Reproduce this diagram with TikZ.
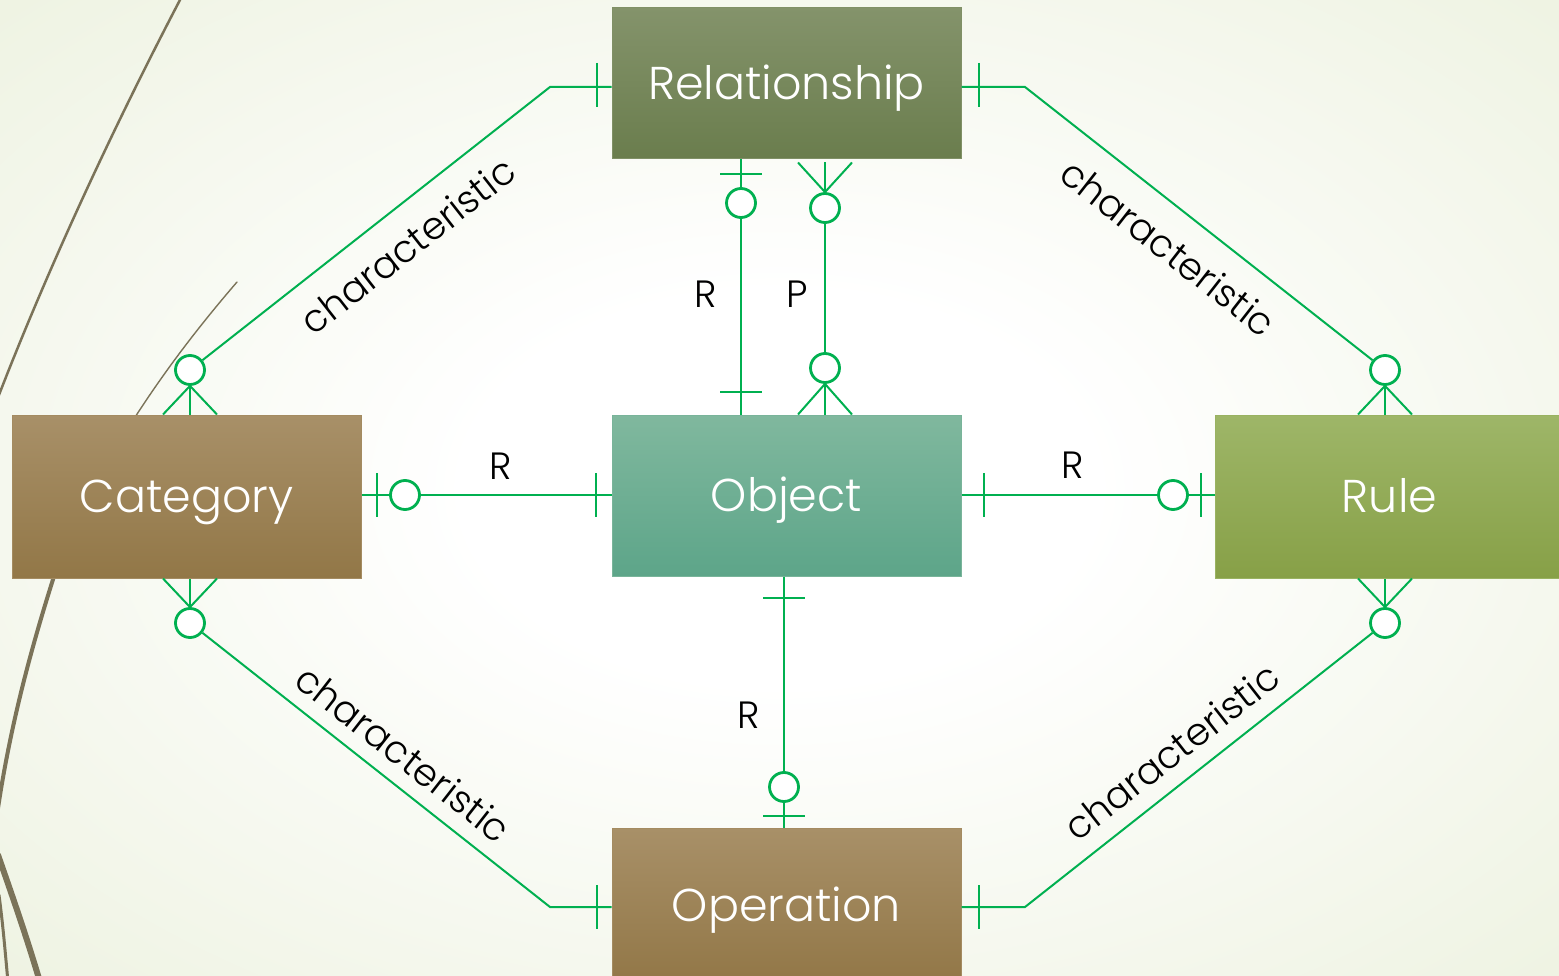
\documentclass[tikz,border=0pt]{standalone}
\usepackage{fontspec}
\setmainfont{Poppins}[UprightFont=* Light]
\usetikzlibrary{calc}
\definecolor{erg}{HTML}{00B050}
\definecolor{relT}{HTML}{84936B}
\definecolor{relB}{HTML}{6A7D4D}
\definecolor{objT}{HTML}{80B89E}
\definecolor{objB}{HTML}{5DA589}
\definecolor{catT}{HTML}{A89068}
\definecolor{catB}{HTML}{927747}
\definecolor{ruleT}{HTML}{9EB668}
\definecolor{ruleB}{HTML}{87A047}
\definecolor{bgout}{HTML}{E5ECD2}
\definecolor{bgcorner}{HTML}{DDE6C2}
\definecolor{wispc}{HTML}{7B7359}
\pgfdeclareradialshading{bgshade}{\pgfpoint{0bp}{0bp}}{color(0bp)=(white); color(10bp)=(white); color(50bp)=(bgout); color(72bp)=(bgcorner)}
\newcommand{\crowfoot}[2]{\draw[conn] ($(#2)+(-27,0)$) -- (#1) -- ($(#2)+(27,0)$); \draw[conn] (#1) -- (#2);}
\newcommand{\vtick}[1]{\draw[conn] ($(#1)+(0,-22)$) -- ($(#1)+(0,22)$);}
\newcommand{\htick}[1]{\draw[conn] ($(#1)+(-21,0)$) -- ($(#1)+(21,0)$);}
\tikzset{
  ent/.style={rectangle, minimum width=349pt, inner sep=0pt, text=white,
    font=\fontsize{46}{54}\selectfont, text height=32pt, text depth=0pt, line width=1pt},
  relbox/.style={ent, minimum height=151pt, top color=relT, bottom color=relB, draw=relT!85!relB},
  objbox/.style={ent, minimum height=161pt, top color=objT, bottom color=objB, draw=objT!80!objB},
  catbox/.style={ent, minimum height=163pt, top color=catT, bottom color=catB, draw=catT!80!catB},
  rulebox/.style={ent, minimum height=163pt, top color=ruleT, bottom color=ruleB, draw=ruleT!80!ruleB},
  opbox/.style={ent, minimum height=154pt, top color=catT, bottom color=catB, draw=catT!80!catB},
  conn/.style={draw=erg, line width=2pt},
  circ/.style={circle, draw=erg, line width=2.8pt, fill=white, minimum size=29pt, inner sep=0pt},
  lab/.style={font=\fontsize{38}{42}\selectfont, text=black, inner sep=0pt, text height=27pt, text depth=0pt},
  wisp/.style={draw=wispc, line cap=round},
}
\begin{document}
\begin{tikzpicture}[x=1pt,y=-1pt]
\useasboundingbox (0,0) rectangle (1559,976);
\clip (0,0) rectangle (1559,976);
\shade[shading=bgshade] (0,0) rectangle (1559,976);
% background wisps
\draw[wisp, line width=2.5pt] (181,-2) .. controls (125,105) and (55,250) .. (-3,400);
\draw[wisp, line width=1.4pt] (237,282) .. controls (200,325) and (165,370) .. (130,425);
\draw[wisp, line width=4pt] (56,570) .. controls (32,645) and (10,725) .. (-3,815);
\draw[wisp, line width=6pt] (-2,855) .. controls (12,895) and (26,935) .. (40,982);
\draw[wisp, line width=3pt] (-1,895) .. controls (3,925) and (5,950) .. (8,982);
% entities
\node[relbox] (rel) at (786.5,83.5) {Relationship};
\node[objbox] (obj) at (786.5,495.5) {Object};
\node[catbox] (cat) at (186.5,496.5) {Category};
\node[rulebox] (rule) at (1389.5,496.5) {Rule};
\node[opbox] (op) at (786.5,905) {Operation};
% circles
\node[circ] (c1) at (190,370) {};
\node[circ] (c2) at (1385,370) {};
\node[circ] (c3) at (190,623) {};
\node[circ] (c4) at (1385,623) {};
\node[circ] (c5) at (741,203) {};
\node[circ] (c6a) at (825,208) {};
\node[circ] (c6b) at (825,368) {};
\node[circ] (c7) at (405,495) {};
\node[circ] (c8) at (1173,495) {};
\node[circ] (c9) at (784,787) {};
% elbows
\coordinate (e1) at (550,87);
\coordinate (e2) at (1025,87);
\coordinate (e3) at (550,907);
\coordinate (e4) at (1025,907);
% connector: Relationship - Category
\draw[conn] (rel.west |- e1) -- (e1) -- (c1);
\vtick{$(rel.west |- e1)+(-15,-2)$}
\coordinate (f1) at (c1.south |- cat.north);
\crowfoot{c1.south}{f1}
% connector: Relationship - Rule
\draw[conn] (rel.east |- e2) -- (e2) -- (c2);
\vtick{$(rel.east |- e2)+(17,-2)$}
\coordinate (f2) at (c2.south |- rule.north);
\crowfoot{c2.south}{f2}
% connector: Category - Operation
\draw[conn] (op.west |- e3) -- (e3) -- (c3);
\vtick{$(op.west |- e3)+(-15,0)$}
\coordinate (f3) at (c3.north |- cat.south);
\crowfoot{c3.north}{f3}
% connector: Rule - Operation
\draw[conn] (op.east |- e4) -- (e4) -- (c4);
\vtick{$(op.east |- e4)+(17,0)$}
\coordinate (f4) at (c4.north |- rule.south);
\crowfoot{c4.north}{f4}
% connector: Relationship - Object (R)
\draw[conn] (rel.south -| c5) -- (c5.north);
\draw[conn] (c5.south) -- (obj.north -| c5);
\htick{$(rel.south -| c5)+(0,14.5)$}
\htick{$(obj.north -| c5)+(0,-22)$}
% connector: Relationship - Object (P)
\coordinate (f6a) at ($(rel.south -| c6a)+(0,3)$);
\crowfoot{c6a.north}{f6a}
\draw[conn] (c6a.south) -- (c6b.north);
\coordinate (f6b) at (c6b.south |- obj.north);
\crowfoot{c6b.south}{f6b}
% connector: Category - Object
\draw[conn] (cat.east |- c7) -- (c7.west);
\draw[conn] (c7.east) -- (obj.west |- c7);
\vtick{$(cat.east |- c7)+(15,0)$}
\vtick{$(obj.west |- c7)+(-16,0)$}
% connector: Object - Rule
\draw[conn] (obj.east |- c8) -- (c8.west);
\draw[conn] (c8.east) -- (rule.west |- c8);
\vtick{$(obj.east |- c8)+(22,0)$}
\vtick{$(rule.west |- c8)+(-14,0)$}
% connector: Object - Operation
\draw[conn] (obj.south -| c9) -- (c9.north);
\draw[conn] (c9.south) -- (op.north -| c9);
\htick{$(obj.south -| c9)+(0,21)$}
\htick{$(op.north -| c9)+(0,-12)$}
% labels
\node[lab, rotate=38] (l1) at (408,246) {characteristic};
\node[lab, rotate=-38] (l2) at (1168,248) {characteristic};
\node[lab, rotate=-38] (l3) at (403,754) {characteristic};
\node[lab, rotate=38] (l4) at (1172,752) {characteristic};
\node[lab] (l5) at (706,294) {R};
\node[lab] (l6) at (797,294) {P};
\node[lab] (l7) at (501,466) {R};
\node[lab] (l8) at (1073,465) {R};
\node[lab] (l9) at (749,715) {R};
\end{tikzpicture}
\end{document}
